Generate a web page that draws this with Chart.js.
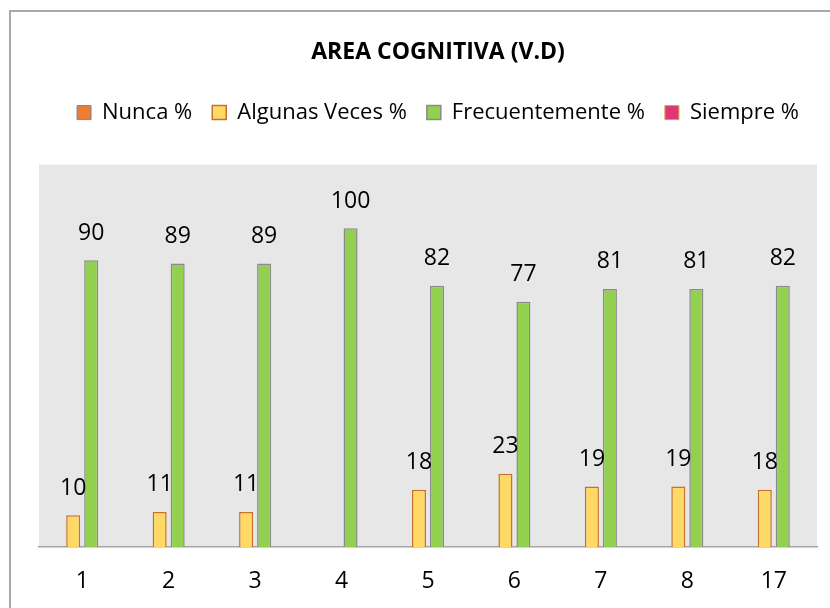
<!DOCTYPE html>
<html>
<head>
<meta charset="utf-8">
<script src="https://cdn.jsdelivr.net/npm/chart.js@4.4.1/dist/chart.umd.min.js"></script>
<style>
    html, body { margin: 0; padding: 0; background: #fff; overflow: hidden; }
    #frame { position: absolute; left: 9px; top: 10px; width: 900px; height: 700px;
             border-left: 2px solid #a9a9a9; border-top: 2px solid #a9a9a9; }
    #chartArea { position: absolute; left: 0; top: 0; }
</style>
</head>
<body>
<div id="frame"></div>
<canvas id="chartArea" width="850" height="608"></canvas>
<script>
const categories = ['1', '2', '3', '4', '5', '6', '7', '8', '17'];
const nunca = [0, 0, 0, 0, 0, 0, 0, 0, 0];
const algunasVeces = [10, 11, 11, 0, 18, 23, 19, 19, 18];
const frecuentemente = [90, 89, 89, 100, 82, 77, 81, 81, 82];
const siempre = [0, 0, 0, 0, 0, 0, 0, 0, 0];

const fontFamily = '"Open Sans", sans-serif';

// gray plot background
const plotBackground = {
    id: 'plotBackground',
    beforeDraw(chart) {
        const {ctx, chartArea} = chart;
        ctx.save();
        ctx.fillStyle = '#e7e7e7';
        ctx.fillRect(chartArea.left, chartArea.top, chartArea.right - chartArea.left, chartArea.bottom - chartArea.top);
        ctx.restore();
    }
};

// value labels above the bars (only non zero)
const barLabels = {
    id: 'barLabels',
    afterDatasetsDraw(chart) {
        const ctx = chart.ctx;
        ctx.save();
        ctx.font = '23px ' + fontFamily;
        ctx.fillStyle = '#000';
        ctx.textAlign = 'center';
        ctx.textBaseline = 'middle';
        chart.data.datasets.forEach((ds, i) => {
            const meta = chart.getDatasetMeta(i);
            meta.data.forEach((bar, j) => {
                const v = ds.data[j];
                if (!v) return;
                ctx.fillText(v, bar.x, bar.y - 27);
            });
        });
        ctx.restore();
    }
};

drawChart();
function drawChart() {
    const ctx = document.getElementById('chartArea').getContext('2d');
    const myChart = new Chart(ctx, {
        type: 'bar',
        data: {
            labels: categories,
            datasets: [{
                label: 'Nunca %',
                data: nunca,
                backgroundColor: '#ed7d31',
                borderColor: '#5b8bc9',
                borderWidth: 1
            }, {
                label: 'Algunas Veces %',
                data: algunasVeces,
                backgroundColor: '#ffd966',
                borderColor: '#c8702e',
                borderWidth: 1.5
            }, {
                label: 'Frecuentemente %',
                data: frecuentemente,
                backgroundColor: '#92d050',
                borderColor: '#8a8a8a',
                borderWidth: 1.5
            }, {
                label: 'Siempre %',
                data: siempre,
                backgroundColor: '#e0357c',
                borderColor: '#d4a32a',
                borderWidth: 1
            }]
        },
        options: {
            responsive: false,
            animation: false,
            categoryPercentage: 0.833,
            barPercentage: 0.78,
            layout: { padding: { left: 39, right: 13, top: 0, bottom: 0 } },
            plugins: {
                title: {
                    display: true,
                    text: 'AREA COGNITIVA (V.D)',
                    color: '#000',
                    font: { family: fontFamily, size: 23, weight: 'bold' },
                    padding: { top: 39, bottom: 15 }
                },
                legend: {
                    display: true,
                    labels: {
                        color: '#000',
                        font: { family: fontFamily, size: 22 },
                        boxWidth: 14,
                        boxHeight: 14,
                        padding: 20
                    }
                },
                tooltip: { enabled: false }
            },
            scales: {
                x: {
                    grid: { display: false, drawTicks: false },
                    border: { display: true, color: '#a6a6a6', width: 1.5 },
                    ticks: { color: '#000', font: { family: fontFamily, size: 23 }, padding: 21 },
                    afterFit(scale) { scale.height = 61; }
                },
                y: {
                    display: false,
                    min: 0,
                    max: 120
                },
                topGap: {
                    type: 'linear',
                    position: 'top',
                    display: true,
                    grid: { display: false },
                    border: { display: false },
                    ticks: { display: false },
                    afterFit(scale) { scale.height = 31; }
                },
                rightGap: {
                    type: 'linear',
                    position: 'right',
                    display: true,
                    grid: { display: false },
                    border: { display: false },
                    ticks: { display: false },
                    afterFit(scale) { scale.width = 20; }
                }
            }
        },
        plugins: [plotBackground, barLabels]
    });
}
</script>
</body>
</html>
